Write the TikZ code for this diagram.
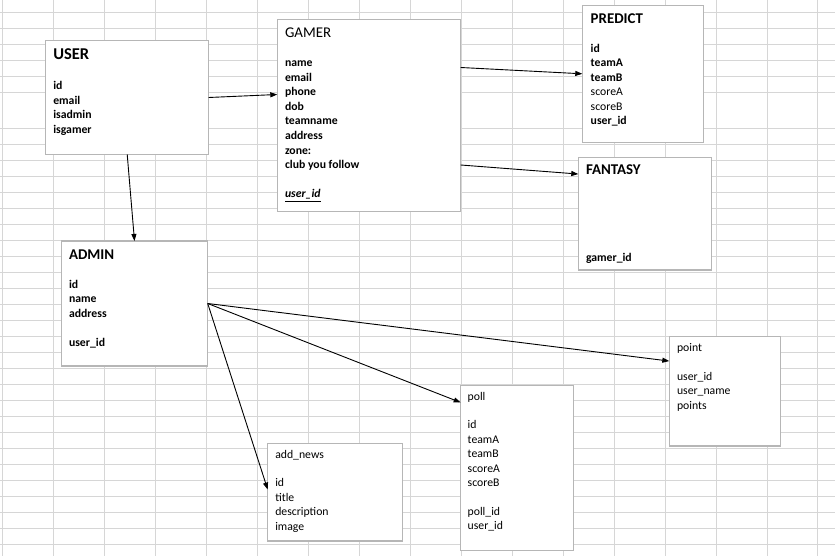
\documentclass[tikz,border=0pt]{standalone}
\usepackage{fontspec}
\setmainfont{Carlito}
\usetikzlibrary{arrows.meta}
\definecolor{gridc}{RGB}{214,214,214}
\definecolor{boxc}{RGB}{182,182,182}
\newcommand\bodyf{\fontsize{11.73}{14.4}\selectfont}
\newcommand\ttlf{\fontsize{14.9}{18}\selectfont}
\newcommand\ttlF{\fontsize{16.5}{20}\selectfont}
\newcommand\tblk[2]{\vtop{\bodyf\baselineskip=#1\lineskiplimit=-100pt\lineskip=0pt #2}}
\newcommand\rowb[1]{\hbox{\bfseries #1}}
\newcommand\rowr[1]{\hbox{#1}}
\newcommand\rowe{\hbox{}}
\begin{document}
\begin{tikzpicture}[x=1pt,y=1pt,
  box/.style={draw=boxc,line width=1.4pt,fill=white,inner sep=0pt,outer sep=0pt,anchor=north west},
  txt/.style={anchor=base west,inner sep=0pt,outer sep=0pt},
  arr/.style={-{Triangle[length=7pt,width=5pt]},line width=0.9pt,draw=black},
  gridl/.style={draw=gridc,line width=1pt}]
\useasboundingbox (0,0) rectangle (835,-556);
\fill[white] (0,0) rectangle (835,-556);
% spreadsheet grid
\foreach \i in {0,...,16} \draw[gridl] ({2.3+50.98*\i},0) -- ({2.3+50.98*\i},-556);
\foreach \yy in {12.3,28.3,44.3,60.3,76.3,92.3} \draw[gridl] (0,-\yy) -- (835,-\yy);
\foreach \i in {0,...,26} \draw[gridl] (0,{-128.3-16*\i}) -- (835,{-128.3-16*\i});
% boxes
\node[box,minimum width=163pt,minimum height=113.6pt] (user) at (45.7,-40.7) {};
\node[box,minimum width=183.4pt,minimum height=192pt] (gamer) at (277.3,-19.3) {};
\node[box,minimum width=121pt,minimum height=137pt] (predict) at (582.3,-5.3) {};
\node[box,minimum width=133pt,minimum height=112.7pt] (fantasy) at (578.3,-157.3) {};
\node[box,minimum width=146.4pt,minimum height=125pt] (admin) at (61.3,-241) {};
\node[box,minimum width=134.6pt,minimum height=97.7pt] (news) at (267.7,-443.3) {};
\node[box,minimum width=112.6pt,minimum height=165pt] (poll) at (460.7,-385.3) {};
\node[box,minimum width=111pt,minimum height=109.3pt] (point) at (669.3,-336.7) {};
% texts
\node[txt] (usert) at (53.3,-60) {\tblk{14.7pt}{\hbox{\ttlF\bfseries USER}\rowe\rowb{id}\rowb{email}\rowb{isadmin}\rowb{isgamer}}};
\node[txt] (gamert) at (285,-37.3) {\tblk{14.6pt}{\hbox{\ttlf GAMER}\rowe\rowb{name}\rowb{email}\rowb{phone}\rowb{dob}\rowb{teamname}\rowb{address}\rowb{zone:}\rowb{club you follow}\rowe\hbox{\bfseries\itshape\underline{user\_id}}}};
\node[txt] (predictt) at (590.7,-23.3) {\tblk{14.5pt}{\hbox{\ttlf\bfseries PREDICT}\rowe\rowb{id}\rowb{teamA}\rowb{teamB}\rowr{scoreA}\rowr{scoreB}\rowb{user\_id}}};
\node[txt] (fantasyt) at (586,-175) {\tblk{14.4pt}{\hbox{\ttlf\bfseries FANTASY}\vskip72.6pt\rowb{gamer\_id}}};
\node[txt] (admint) at (69,-259.3) {\tblk{14.5pt}{\hbox{\ttlf\bfseries ADMIN}\rowe\rowb{id}\rowb{name}\rowb{address}\rowe\rowb{user\_id}}};
\node[txt] (newst) at (275.3,-458) {\tblk{14.4pt}{\rowr{add\_news}\rowe\rowr{id}\rowr{title}\rowr{description}\rowr{image}}};
\node[txt] (pollt) at (467.7,-400) {\tblk{14.4pt}{\rowr{poll}\rowe\rowr{id}\rowr{teamA}\rowr{teamB}\rowr{scoreA}\rowr{scoreB}\rowe\rowr{poll\_id}\rowr{user\_id}}};
\node[txt] (pointt) at (677,-351) {\tblk{14.5pt}{\rowr{point}\rowe\rowr{user\_id}\rowr{user\_name}\rowr{points}}};
% connectors
\draw[arr] (user.east) -- ([yshift=20.8pt]gamer.west);
\draw[arr] (user.south) -- (admin.north);
\draw[arr] ([yshift=47.8pt]gamer.east) -- (predict.west);
\draw[arr] ([yshift=-49.7pt]gamer.east) -- ([yshift=39.6pt]fantasy.west);
\draw[arr] (admin.east) -- ([yshift=30.3pt]point.west);
\draw[arr] (admin.east) -- ([yshift=65.3pt]poll.west);
\draw[arr] (admin.east) -- ([yshift=2.6pt]news.west);
\end{tikzpicture}
\end{document}
